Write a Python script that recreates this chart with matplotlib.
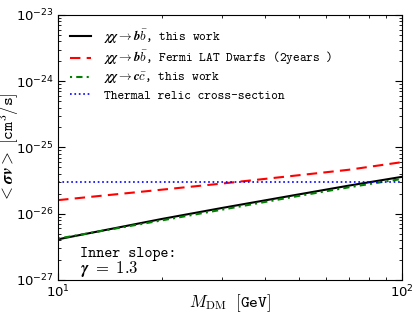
import numpy as np
import matplotlib
matplotlib.use('Agg')
import matplotlib.pyplot as plt
from matplotlib.ticker import NullFormatter

plt.rcParams['mathtext.fontset'] = 'cm'

# DM mass [GeV]
mass = [10, 20, 30, 50, 70, 100]
# <sigma v> limits [cm^3/s]
bb_this = [4.1e-27, 8.3e-27, 1.22e-26, 1.95e-26, 2.65e-26, 3.6e-26]
bb_fermi = [1.6e-26, 2.3e-26, 2.85e-26, 3.8e-26, 4.6e-26, 6.0e-26]
cc_this = [4.2e-27, 7.9e-27, 1.15e-26, 1.85e-26, 2.5e-26, 3.35e-26]
thermal = 3.0e-26

TT = 'cmtt10'

fig, ax = plt.subplots(figsize=(4.15, 3.12), dpi=100)
ax.plot(mass, bb_this, color='black', lw=1.5,
        label=r'$\boldsymbol{\chi\chi \rightarrow b\bar{b}}$, this work')
ax.plot(mass, bb_fermi, color='red', lw=1.5, ls=(0, (5, 3)),
        label=r'$\boldsymbol{\chi\chi \rightarrow b\bar{b}}$, Fermi LAT Dwarfs (2years )')
ax.plot(mass, cc_this, color='green', lw=1.5, ls=(0, (1, 2, 3, 2)),
        label=r'$\boldsymbol{\chi\chi \rightarrow c\bar{c}}$, this work')
ax.axhline(thermal, color='blue', lw=1.2, ls=':', label='Thermal relic cross-section')

ax.set_xscale('log')
ax.set_yscale('log')
ax.set_xlim(10, 100)
ax.set_ylim(1e-27, 1e-23)
ax.xaxis.set_minor_formatter(NullFormatter())
ax.tick_params(which='both', direction='in', top=True, right=True, labelsize=9.5)
ax.tick_params(which='major', length=5, pad=3)
ax.tick_params(which='minor', length=2.5)

ax.set_xlabel(r'$\boldsymbol{M_{\rm DM}}\ \ \mathtt{[GeV]}$', fontsize=12)
ax.set_ylabel(r'$\boldsymbol{<\sigma v>}\ \mathtt{[cm^3/s]}$', fontsize=12)
ax.xaxis.set_label_coords(0.5, -0.045)
ax.yaxis.set_label_coords(-0.108, 0.5)

leg = ax.legend(loc='upper left', frameon=False, bbox_to_anchor=(0.0, 0.995),
                prop={'family': TT, 'size': 9.2}, handlelength=1.7,
                handletextpad=1.0, labelspacing=0.28)

ax.text(0.065, 0.085, 'Inner slope:', transform=ax.transAxes, family=TT, fontsize=11)
ax.text(0.065, 0.025, r'$\boldsymbol{\gamma}\ \mathbf{=\ 1.3}$', transform=ax.transAxes, fontsize=12)

plt.subplots_adjust(left=0.14, right=0.969, bottom=0.103, top=0.952)
fig.savefig('out.png', dpi=100)
